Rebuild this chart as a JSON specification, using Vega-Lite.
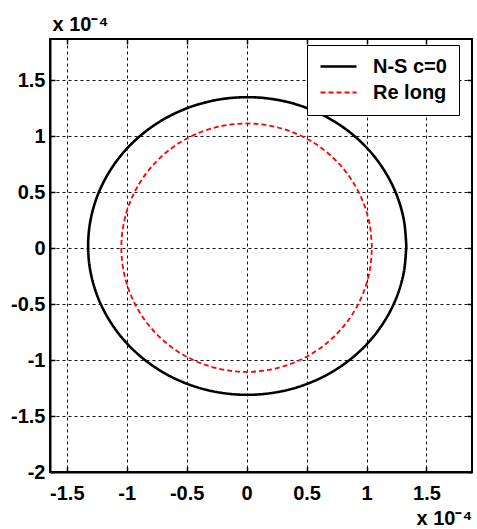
{
  "$schema": "https://vega.github.io/schema/vega-lite/v6.json",
  "width": 422,
  "height": 433,
  "autosize": "none",
  "padding": {"left": 50, "top": 39, "right": 5, "bottom": 57},
  "background": "white",
  "config": {
    "font": "Liberation Sans",
    "view": {"stroke": "black", "strokeWidth": 2},
    "axis": {
      "labelFont": "Liberation Sans",
      "labelFontWeight": "bold",
      "labelFontSize": 20,
      "labelColor": "black",
      "domainColor": "black",
      "domainWidth": 2,
      "tickColor": "black",
      "tickWidth": 1.5,
      "tickSize": -5,
      "gridColor": "#111111",
      "gridDash": [3, 3],
      "gridWidth": 1,
      "gridOpacity": 1,
      "titleFont": "Liberation Sans",
      "titleFontWeight": "bold",
      "titleFontSize": 20,
      "titleColor": "black"
    },
    "legend": {
      "orient": "none",
      "legendX": 257,
      "legendY": 6,
      "strokeColor": "black",
      "fillColor": "white",
      "padding": 12,
      "symbolType": "stroke",
      "symbolSize": 1296,
      "symbolStrokeWidth": 2,
      "clipHeight": 19,
      "labelFont": "Liberation Sans",
      "labelFontWeight": "bold",
      "labelFontSize": 20,
      "labelColor": "black",
      "labelOffset": 15,
      "rowPadding": 5,
      "title": null
    }
  },
  "datasets": {
    "curves": [
      {"s": "N-S c=0", "i": 0, "x": 1.332, "y": 0.02},
      {"s": "N-S c=0", "i": 1, "x": 1.312, "y": 0.251},
      {"s": "N-S c=0", "i": 2, "x": 1.252, "y": 0.475},
      {"s": "N-S c=0", "i": 3, "x": 1.154, "y": 0.685},
      {"s": "N-S c=0", "i": 4, "x": 1.022, "y": 0.875},
      {"s": "N-S c=0", "i": 5, "x": 0.858, "y": 1.039},
      {"s": "N-S c=0", "i": 6, "x": 0.669, "y": 1.172},
      {"s": "N-S c=0", "i": 7, "x": 0.459, "y": 1.27},
      {"s": "N-S c=0", "i": 8, "x": 0.235, "y": 1.33},
      {"s": "N-S c=0", "i": 9, "x": 0.005, "y": 1.35},
      {"s": "N-S c=0", "i": 10, "x": -0.225, "y": 1.33},
      {"s": "N-S c=0", "i": 11, "x": -0.449, "y": 1.27},
      {"s": "N-S c=0", "i": 12, "x": -0.659, "y": 1.172},
      {"s": "N-S c=0", "i": 13, "x": -0.848, "y": 1.039},
      {"s": "N-S c=0", "i": 14, "x": -1.012, "y": 0.875},
      {"s": "N-S c=0", "i": 15, "x": -1.144, "y": 0.685},
      {"s": "N-S c=0", "i": 16, "x": -1.242, "y": 0.475},
      {"s": "N-S c=0", "i": 17, "x": -1.302, "y": 0.251},
      {"s": "N-S c=0", "i": 18, "x": -1.322, "y": 0.02},
      {"s": "N-S c=0", "i": 19, "x": -1.302, "y": -0.211},
      {"s": "N-S c=0", "i": 20, "x": -1.242, "y": -0.435},
      {"s": "N-S c=0", "i": 21, "x": -1.144, "y": -0.645},
      {"s": "N-S c=0", "i": 22, "x": -1.012, "y": -0.835},
      {"s": "N-S c=0", "i": 23, "x": -0.848, "y": -0.999},
      {"s": "N-S c=0", "i": 24, "x": -0.659, "y": -1.132},
      {"s": "N-S c=0", "i": 25, "x": -0.449, "y": -1.23},
      {"s": "N-S c=0", "i": 26, "x": -0.225, "y": -1.29},
      {"s": "N-S c=0", "i": 27, "x": 0.005, "y": -1.31},
      {"s": "N-S c=0", "i": 28, "x": 0.235, "y": -1.29},
      {"s": "N-S c=0", "i": 29, "x": 0.459, "y": -1.23},
      {"s": "N-S c=0", "i": 30, "x": 0.669, "y": -1.132},
      {"s": "N-S c=0", "i": 31, "x": 0.858, "y": -0.999},
      {"s": "N-S c=0", "i": 32, "x": 1.022, "y": -0.835},
      {"s": "N-S c=0", "i": 33, "x": 1.154, "y": -0.645},
      {"s": "N-S c=0", "i": 34, "x": 1.252, "y": -0.435},
      {"s": "N-S c=0", "i": 35, "x": 1.312, "y": -0.211},
      {"s": "N-S c=0", "i": 36, "x": 1.332, "y": 0.02},
      {"s": "Re long", "i": 0, "x": 1.045, "y": 0.005},
      {"s": "Re long", "i": 1, "x": 1.029, "y": 0.198},
      {"s": "Re long", "i": 2, "x": 0.982, "y": 0.385},
      {"s": "Re long", "i": 3, "x": 0.905, "y": 0.56},
      {"s": "Re long", "i": 4, "x": 0.801, "y": 0.718},
      {"s": "Re long", "i": 5, "x": 0.672, "y": 0.855},
      {"s": "Re long", "i": 6, "x": 0.523, "y": 0.966},
      {"s": "Re long", "i": 7, "x": 0.357, "y": 1.048},
      {"s": "Re long", "i": 8, "x": 0.181, "y": 1.098},
      {"s": "Re long", "i": 9, "x": 0.0, "y": 1.115},
      {"s": "Re long", "i": 10, "x": -0.181, "y": 1.098},
      {"s": "Re long", "i": 11, "x": -0.357, "y": 1.048},
      {"s": "Re long", "i": 12, "x": -0.523, "y": 0.966},
      {"s": "Re long", "i": 13, "x": -0.672, "y": 0.855},
      {"s": "Re long", "i": 14, "x": -0.801, "y": 0.718},
      {"s": "Re long", "i": 15, "x": -0.905, "y": 0.56},
      {"s": "Re long", "i": 16, "x": -0.982, "y": 0.385},
      {"s": "Re long", "i": 17, "x": -1.029, "y": 0.198},
      {"s": "Re long", "i": 18, "x": -1.045, "y": 0.005},
      {"s": "Re long", "i": 19, "x": -1.029, "y": -0.188},
      {"s": "Re long", "i": 20, "x": -0.982, "y": -0.375},
      {"s": "Re long", "i": 21, "x": -0.905, "y": -0.55},
      {"s": "Re long", "i": 22, "x": -0.801, "y": -0.708},
      {"s": "Re long", "i": 23, "x": -0.672, "y": -0.845},
      {"s": "Re long", "i": 24, "x": -0.523, "y": -0.956},
      {"s": "Re long", "i": 25, "x": -0.357, "y": -1.038},
      {"s": "Re long", "i": 26, "x": -0.181, "y": -1.088},
      {"s": "Re long", "i": 27, "x": 0.0, "y": -1.105},
      {"s": "Re long", "i": 28, "x": 0.181, "y": -1.088},
      {"s": "Re long", "i": 29, "x": 0.357, "y": -1.038},
      {"s": "Re long", "i": 30, "x": 0.523, "y": -0.956},
      {"s": "Re long", "i": 31, "x": 0.672, "y": -0.845},
      {"s": "Re long", "i": 32, "x": 0.801, "y": -0.708},
      {"s": "Re long", "i": 33, "x": 0.905, "y": -0.55},
      {"s": "Re long", "i": 34, "x": 0.982, "y": -0.375},
      {"s": "Re long", "i": 35, "x": 1.029, "y": -0.188},
      {"s": "Re long", "i": 36, "x": 1.045, "y": 0.005}
    ]
  },
  "data": {"name": "curves"},
  "layer": [
    {
      "mark": {"type": "line", "clip": true, "interpolate": "catmull-rom"},
      "encoding": {
        "x": {
          "field": "x", "type": "quantitative",
          "scale": {"domain": [-1.64, 1.88], "nice": false, "zero": false},
          "axis": {
            "orient": "bottom",
            "values": [-1.5, -1, -0.5, 0, 0.5, 1, 1.5],
            "labelExpr": "'' + datum.value",
            "grid": true,
            "labelPadding": 16,
            "title": "x 10⁻⁴",
            "titleAnchor": "start",
            "titleAlign": "left",
            "titleBaseline": "alphabetic",
            "titleX": 366,
            "titleY": 52
          }
        },
        "y": {
          "field": "y", "type": "quantitative",
          "scale": {"domain": [-2, 1.87], "nice": false, "zero": false},
          "axis": {
            "orient": "left",
            "values": [-2, -1.5, -1, -0.5, 0, 0.5, 1, 1.5],
            "labelExpr": "'' + datum.value",
            "grid": true,
            "labelPadding": 10,
            "title": "x 10⁻⁴",
            "titleAngle": 0,
            "titleAlign": "left",
            "titleBaseline": "alphabetic",
            "titleX": 2,
            "titleY": -9
          }
        },
        "order": {"field": "i", "type": "quantitative"},
        "color": {
          "field": "s", "type": "nominal",
          "scale": {"domain": ["N-S c=0", "Re long"], "range": ["black", "red"]},
          "legend": {"title": null}
        },
        "strokeDash": {
          "field": "s", "type": "nominal",
          "scale": {"domain": ["N-S c=0", "Re long"], "range": [[1, 0], [5, 3]]},
          "legend": {"title": null}
        },
        "strokeWidth": {
          "field": "s", "type": "nominal",
          "scale": {"domain": ["N-S c=0", "Re long"], "range": [2.6, 1.8]},
          "legend": {"title": null}
        }
      }
    },
    {
      "mark": {"type": "line", "opacity": 0},
      "encoding": {
        "x": {
          "field": "x", "type": "quantitative",
          "axis": {
            "orient": "top",
            "values": [-1.5, -1, -0.5, 0, 0.5, 1, 1.5],
            "grid": false, "labels": false, "title": null, "domain": false
          }
        },
        "y": {
          "field": "y", "type": "quantitative",
          "axis": {
            "orient": "right",
            "values": [-2, -1.5, -1, -0.5, 0, 0.5, 1, 1.5],
            "grid": false, "labels": false, "title": null, "domain": false
          }
        },
        "detail": {"field": "s", "type": "nominal"},
        "order": {"field": "i", "type": "quantitative"}
      }
    }
  ],
  "resolve": {"axis": {"x": "independent", "y": "independent"}}
}
